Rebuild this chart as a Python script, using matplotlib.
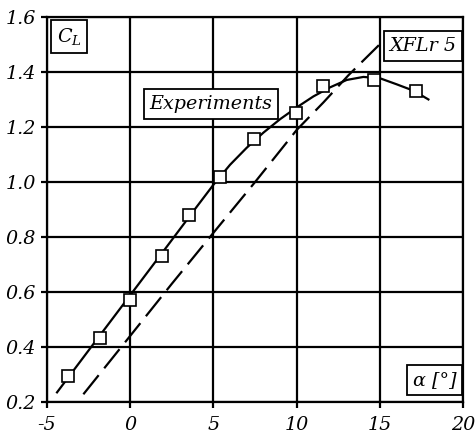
import matplotlib
matplotlib.use("Agg")
import matplotlib.pyplot as plt

# experimental points (alpha [deg], CL)
exp_alpha = [-3.72, -1.83, 0.0, 1.91, 3.55, 5.42, 7.45, 9.95, 11.6, 14.63, 17.17]
exp_cl = [0.292, 0.432, 0.571, 0.731, 0.88, 1.02, 1.156, 1.253, 1.35, 1.371, 1.333]

# fitted curve through the experiments
fit_alpha = [-4.38, -2.0, 0.0, 2.0, 4.0, 5.0, 6.0, 7.0, 8.0, 9.0, 10.0, 11.0,
             12.0, 13.0, 14.0, 15.0, 16.0, 17.0, 17.9]
fit_cl = [0.234, 0.426, 0.587, 0.748, 0.910, 0.99, 1.063, 1.125, 1.180, 1.229,
          1.272, 1.312, 1.345, 1.372, 1.383, 1.378, 1.356, 1.333, 1.301]

# XFLR5 prediction
xflr_alpha = [-2.8, 0.0, 2.5, 5.0, 7.5, 10.0, 11.6, 13.1, 15.35]
xflr_cl = [0.227, 0.439, 0.629, 0.815, 1.0, 1.19, 1.29, 1.389, 1.524]

x_ticks = [-5, 0, 5, 10, 15, 20]
y_ticks = [0.2, 0.4, 0.6, 0.8, 1.0, 1.2, 1.4, 1.6]

plt.rcParams["mathtext.fontset"] = "dejavuserif"
FONT = dict(family="DejaVu Serif", style="italic", size=13.8)

fig = plt.figure(figsize=(4.75, 4.36), dpi=100)
ax = fig.add_axes([0.0983, 0.0787, 0.8773, 0.8815])

ax.plot(fit_alpha, fit_cl, color="black", lw=1.6, zorder=3)
ax.plot(xflr_alpha, xflr_cl, color="black", lw=1.6, dashes=(11, 4), zorder=3)
ax.plot(exp_alpha, exp_cl, ls="none", marker="s", ms=8, mfc="white",
        mec="black", mew=1.2, zorder=4)

ax.set_xlim(-5, 20)
ax.set_ylim(0.2, 1.6)
ax.set_xticks(x_ticks)
ax.set_yticks(y_ticks)
ax.set_xticklabels([str(t) for t in x_ticks], **FONT)
ax.set_yticklabels([f"{t:.1f}" for t in y_ticks], **FONT)
ax.tick_params(direction="out", length=4, width=1.6, color="black")
ax.tick_params(axis="x", pad=6)
ax.tick_params(axis="y", pad=4)
ax.grid(True, color="black", lw=1.6)
ax.set_axisbelow(True)
for s in ax.spines.values():
    s.set_linewidth(1.6)

box = dict(boxstyle="square,pad=0.3", fc="white", ec="black", lw=1.3)
ax.text(0.024, 0.978, "$C_L$", transform=ax.transAxes, ha="left", va="top",
        bbox=box, zorder=5, **FONT)
ax.text(0.394, 0.775, "Experiments", transform=ax.transAxes, ha="center",
        va="center", bbox=box, zorder=5, **FONT)
ax.text(0.983, 0.926, "XFLr 5", transform=ax.transAxes, ha="right",
        va="center", bbox=box, zorder=5, **FONT)
ax.text(0.983, 0.057, "α [°]", transform=ax.transAxes, ha="right",
        va="center", bbox=box, zorder=5, **FONT)

fig.savefig("out.png", dpi=100)
